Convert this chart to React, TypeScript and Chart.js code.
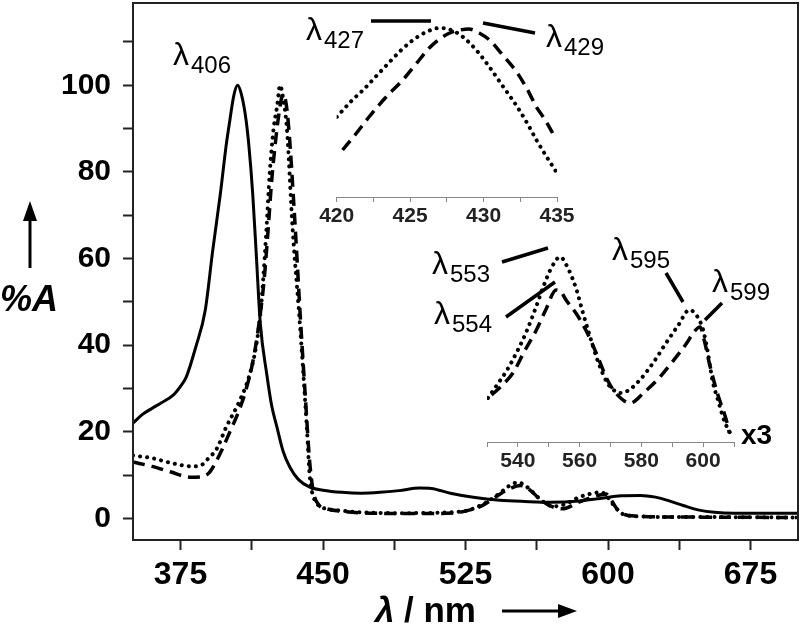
import React, { useEffect, useRef } from "react";
import { Chart, registerables } from "chart.js";
Chart.register(...registerables);

const FONT = '"Liberation Sans", Arial, Helvetica, sans-serif';

// ---------- main spectrum (%A vs nm) ----------
const solidNm = [350, 355, 360, 365, 371, 375, 378, 383, 388, 392, 396, 399, 401, 403, 405, 407, 409.5, 411, 413, 415, 417, 420.5, 423, 425.8, 429, 432.6, 437, 443, 450, 460, 470, 480, 490, 501, 507, 517, 530, 543, 556, 570, 585, 596, 607, 617, 625, 631, 640, 648, 656, 666, 680, 700];
const solidA = [22, 24, 25.4, 26.7, 28.4, 30.5, 32.6, 39.5, 48, 62, 75, 86, 92, 97.5, 100, 98, 92, 86, 75, 60, 45, 33, 26, 21, 15.5, 11.8, 9, 7.2, 6.5, 6, 5.8, 6, 6.4, 7, 6.9, 5.8, 4.8, 4.2, 3.9, 3.7, 4, 4.6, 5.2, 5.3, 4.9, 4.2, 2.9, 1.9, 1.4, 1.2, 1.2, 1.2];

const dottedNm = [350, 360, 371, 381, 386, 390, 394, 399, 406, 411, 414.7, 417, 418.5, 420, 422, 424, 425.8, 427.4, 429, 431, 434, 438, 441.5, 443, 446.8, 452, 459, 470, 490, 510, 526, 531, 536, 543, 548, 552.6, 556, 560.5, 564, 568, 572, 577, 585, 592, 596, 599, 601, 604, 607, 610, 620, 631, 650, 700];
const dottedA = [14.5, 13.9, 12.7, 12, 12.3, 14, 16, 21, 27, 32.6, 39.5, 47, 55, 65, 80, 90, 95, 100, 97, 90, 67, 44, 21, 10, 3.5, 2.2, 1.8, 1.4, 1.2, 1.3, 1.8, 2.6, 3.7, 5.8, 7.5, 8.3, 7.7, 6, 4.5, 3.2, 2.8, 3.2, 4.9, 5.8, 6, 5.4, 4.2, 2.5, 1.2, 0.7, 0.4, 0.3, 0.3, 0.2];

const dashedNm = [350, 360, 370, 380, 386, 390, 393, 397, 401, 405, 409, 413, 416, 419, 421, 423, 425, 427, 429, 430.5, 432, 435, 438, 441, 443, 445, 448, 452, 460, 475, 500, 520, 528, 534, 541, 548, 554, 559, 564, 569, 576, 585, 594, 599, 602, 605, 608, 615, 640, 700];
const dashedA = [13, 12, 10.7, 9.5, 9.6, 10.5, 12.5, 16, 20, 24, 29, 36, 44, 55, 66, 78, 87, 94, 98, 96, 90, 70, 47, 26, 13, 6, 3, 2.2, 1.6, 1.2, 1.1, 1.3, 2, 3, 5, 6.8, 7.6, 6.5, 4.5, 3, 2.2, 3.8, 5.2, 5.6, 4, 2, 1, 0.5, 0.3, 0.2];

const mainXTicks = [375, 412.5, 450, 487.5, 525, 562.5, 600, 637.5, 675];
const mainXLabels = [375, 450, 525, 600, 675];
const mainYTicks = [0, 10, 20, 30, 40, 50, 60, 70, 80, 90, 100, 110];
const mainYLabels = [0, 20, 40, 60, 80, 100];

// ---------- inset 1 (Soret region, relative units) ----------
const in1DotNm = [420, 421, 421.8, 422.7, 423.6, 424.4, 425.2, 426.1, 427, 427.8, 428.6, 429.5, 430.4, 431.3, 432.3, 433, 433.6, 434.3, 435];
const in1DotA = [80, 96, 107, 121, 135, 147, 157, 165, 169, 167, 160, 147, 130, 111, 90, 73, 57, 40, 24];
const in1DashNm = [420.4, 421.3, 422.2, 423.3, 424.5, 425.4, 426.3, 427, 427.7, 428.4, 429, 429.7, 430.4, 431.3, 432.3, 433, 433.6, 434.2, 434.7];
const in1DashA = [47, 63, 80, 99, 117, 133, 149, 158, 164, 167, 168, 164, 157, 142, 124, 107, 90, 77, 64];
const in1Ticks = [420, 422.5, 425, 427.5, 430, 432.5, 435];
const in1Labels = [420, 425, 430, 435];

// ---------- inset 2 (Q bands, x3, relative units) ----------
const in2DotNm = [530.3, 533, 536.5, 540, 543, 546, 548.2, 551, 553.7, 556.5, 559, 561, 563.4, 566, 569, 571, 573, 576, 579.5, 584, 588, 592, 595.5, 598, 600, 601.5, 603, 605, 607, 609.5];
const in2DotA = [44, 56, 72, 92, 112, 136, 155, 175, 185, 172, 152, 130, 105, 80, 59, 52, 49, 52, 62, 80, 99, 117, 132, 126, 112, 90, 62, 40, 20, 5];
const in2DashNm = [531.5, 535, 538.4, 542, 546, 549, 552.4, 554, 555.6, 559, 562, 565.5, 569, 572, 576.4, 581, 586, 590, 594.7, 597, 599, 600.5, 602, 604.5, 607.5, 608.5];
const in2DashA = [47, 57, 69, 90, 112, 132, 152, 150, 142, 128, 112, 88, 62, 48, 39, 50, 65, 80, 99, 110, 115, 100, 79, 50, 22, 9];
const in2Ticks = [530, 540, 550, 560, 570, 580, 590, 600, 610];
const in2Labels = [540, 560, 580, 600];

const pts = (xs: number[], ys: number[]) => xs.map((x, i) => ({ x, y: ys[i] }));

const solidStyle = { borderColor: "#000", borderWidth: 3, pointRadius: 0, cubicInterpolationMode: "monotone" as const, fill: false };
const dotStyle = { borderColor: "#000", borderWidth: 4, borderDash: [0.1, 7], borderCapStyle: "round" as const, pointRadius: 0, cubicInterpolationMode: "monotone" as const, fill: false };
const dashStyle = { borderColor: "#000", borderWidth: 3.5, borderDash: [12, 7], pointRadius: 0, cubicInterpolationMode: "monotone" as const, fill: false };

function drawLambda(ctx: CanvasRenderingContext2D, x: number, y: number, sub: string) {
  ctx.fillStyle = "#000";
  ctx.textBaseline = "alphabetic";
  ctx.textAlign = "left";
  ctx.font = `32px ${FONT}`;
  ctx.fillText("λ", x, y);
  ctx.font = `24px ${FONT}`;
  ctx.fillText(sub, x + 18, y + 8);
}

function line(ctx: CanvasRenderingContext2D, x1: number, y1: number, x2: number, y2: number, w = 3.5) {
  ctx.beginPath();
  ctx.lineWidth = w;
  ctx.strokeStyle = "#000";
  ctx.moveTo(x1, y1);
  ctx.lineTo(x2, y2);
  ctx.stroke();
}

const framePlugin = {
  id: "frame",
  afterDraw(chart: any) {
    const { ctx, chartArea: a } = chart;
    ctx.save();
    ctx.strokeStyle = "#222";
    ctx.lineWidth = 2;
    ctx.strokeRect(a.left, a.top, a.right - a.left, a.bottom - a.top);
    ctx.restore();
  },
};

const annotPlugin = {
  id: "annot",
  afterDraw(chart: any) {
    const ctx: CanvasRenderingContext2D = chart.ctx;
    ctx.save();
    drawLambda(ctx, 173, 65, "406");
    drawLambda(ctx, 306, 40, "427");
    drawLambda(ctx, 546, 47, "429");
    drawLambda(ctx, 432, 274, "553");
    drawLambda(ctx, 434, 324, "554");
    drawLambda(ctx, 612, 260, "595");
    drawLambda(ctx, 712, 292, "599");
    line(ctx, 371, 21, 431, 21);
    line(ctx, 483, 23, 535, 33);
    line(ctx, 502, 262, 548, 248);
    line(ctx, 506, 317, 555, 282);
    line(ctx, 666, 273, 683, 302);
    line(ctx, 722, 303, 705, 320);
    ctx.fillStyle = "#000";
    ctx.font = `bold 28px ${FONT}`;
    ctx.fillText("x3", 741, 444);
    // y title
    ctx.font = `italic bold 36px ${FONT}`;
    ctx.fillText("%A", 0, 311);
    line(ctx, 30, 268, 30, 215, 3);
    ctx.beginPath();
    ctx.moveTo(23, 221);
    ctx.lineTo(37, 221);
    ctx.lineTo(30, 201);
    ctx.closePath();
    ctx.fill();
    // x title
    ctx.font = `italic bold 35px ${FONT}`;
    ctx.fillText("λ", 375, 622);
    ctx.font = `bold 35px ${FONT}`;
    ctx.fillText("/ nm", 404, 622);
    line(ctx, 502, 611, 562, 611, 3);
    ctx.beginPath();
    ctx.moveTo(558, 604);
    ctx.lineTo(558, 618);
    ctx.lineTo(577, 611);
    ctx.closePath();
    ctx.fill();
    ctx.restore();
  },
};

function insetConfig(dot: any[], dash: any[], xmin: number, xmax: number, ymax: number, ticks: number[], labels: number[], pad: any) {
  return {
    type: "line" as const,
    data: {
      datasets: [
        { data: dot, ...dotStyle },
        { data: dash, ...dashStyle },
      ],
    },
    options: {
      animation: false as const,
      responsive: false,
      events: [],
      layout: { padding: pad },
      plugins: { legend: { display: false }, tooltip: { enabled: false } },
      scales: {
        x: {
          type: "linear" as const,
          min: xmin,
          max: xmax,
          afterBuildTicks: (s: any) => { s.ticks = ticks.map((v) => ({ value: v })); },
          afterFit: (s: any) => { s.height = 30; s.paddingLeft = 0; s.paddingRight = 0; },
          ticks: {
            callback: (v: any) => (labels.includes(v) ? String(v) : ""),
            font: { family: FONT, size: 21, weight: "bold" as const },
            color: "#222",
            padding: 2,
            maxRotation: 0,
            autoSkip: false,
          },
          grid: { drawOnChartArea: false, tickLength: 5, tickColor: "#888", tickWidth: 1 },
          border: { color: "#888", width: 1 },
        },
        y: { display: false, min: 0, max: ymax },
      },
    },
  };
}

export default function App() {
  const mainRef = useRef<HTMLCanvasElement>(null);
  const in1Ref = useRef<HTMLCanvasElement>(null);
  const in2Ref = useRef<HTMLCanvasElement>(null);

  useEffect(() => {
    const charts: Chart[] = [];
    charts.push(
      new Chart(mainRef.current!, {
        type: "line",
        data: {
          datasets: [
            { data: pts(solidNm, solidA), ...solidStyle },
            { data: pts(dottedNm, dottedA), ...dotStyle },
            { data: pts(dashedNm, dashedA), ...dashStyle },
          ],
        },
        options: {
          animation: false,
          responsive: false,
          events: [],
          layout: { padding: { top: 3, right: 2, left: 0, bottom: 0 } },
          plugins: { legend: { display: false }, tooltip: { enabled: false } },
          scales: {
            x: {
              type: "linear",
              min: 350,
              max: 700,
              afterBuildTicks: (s: any) => { s.ticks = mainXTicks.map((v) => ({ value: v })); },
              afterFit: (s: any) => { s.height = 90; s.paddingLeft = 0; s.paddingRight = 0; },
              ticks: {
                callback: (v: any) => (mainXLabels.includes(v) ? String(v) : ""),
                font: { family: FONT, size: 32, weight: "bold" },
                color: "#000",
                padding: 6,
                maxRotation: 0,
                autoSkip: false,
              },
              grid: { drawOnChartArea: false, tickLength: 10, tickColor: "#222", tickWidth: 2 },
              border: { color: "#222", width: 2 },
            },
            y: {
              min: -5,
              max: 119,
              afterBuildTicks: (s: any) => { s.ticks = mainYTicks.map((v) => ({ value: v })); },
              afterFit: (s: any) => { s.width = 133; s.paddingTop = 0; s.paddingBottom = 0; },
              ticks: {
                callback: (v: any) => (mainYLabels.includes(v) ? String(v) : ""),
                font: { family: FONT, size: 30, weight: "bold" },
                color: "#000",
                padding: 12,
                autoSkip: false,
              },
              grid: { drawOnChartArea: false, tickLength: 10, tickColor: "#222", tickWidth: 2 },
              border: { color: "#222", width: 2 },
            },
          },
        },
        plugins: [framePlugin, annotPlugin],
      } as any)
    );
    charts.push(
      new Chart(
        in1Ref.current!,
        insetConfig(pts(in1DotNm, in1DotA), pts(in1DashNm, in1DashA), 420, 435, 189, in1Ticks, in1Labels, {
          left: 336.7, right: 243, top: 8, bottom: 403,
        }) as any
      )
    );
    charts.push(
      new Chart(
        in2Ref.current!,
        insetConfig(pts(in2DotNm, in2DotA), pts(in2DashNm, in2DashA), 530, 610, 202, in2Ticks, in2Labels, {
          left: 487, right: 66, top: 240, bottom: 158,
        }) as any
      )
    );
    return () => charts.forEach((c) => c.destroy());
  }, []);

  const cs: React.CSSProperties = { position: "absolute", left: 0, top: 0, width: 800, height: 630 };
  return (
    <div style={{ position: "absolute", left: 0, top: 0, width: 800, height: 630, background: "#fff" }}>
      <canvas ref={mainRef} width={800} height={630} style={cs} />
      <canvas ref={in1Ref} width={800} height={630} style={{ ...cs, pointerEvents: "none" }} />
      <canvas ref={in2Ref} width={800} height={630} style={{ ...cs, pointerEvents: "none" }} />
    </div>
  );
}
